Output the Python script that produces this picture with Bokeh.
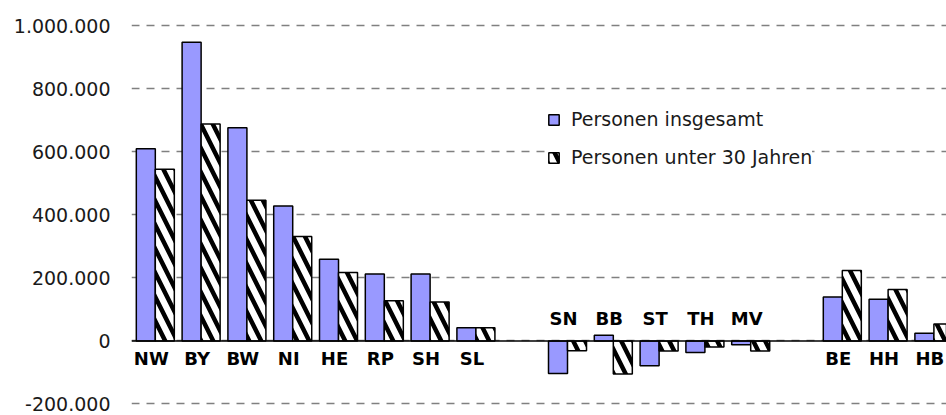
from bokeh.plotting import figure
from bokeh.models import ColumnDataSource, FixedTicker, Span, Legend, LegendItem
from bokeh.core.properties import value
from bokeh.embed import file_html
from bokeh.resources import INLINE

# ---- data -------------------------------------------------------------
west = ["NW", "BY", "BW", "NI", "HE", "RP", "SH", "SL"]
west_total = [609000, 947000, 676000, 428000, 259000, 212000, 212000, 42000]
west_young = [544000, 688000, 446000, 331000, 217000, 127000, 123000, 42000]

east = ["SN", "BB", "ST", "TH", "MV"]
east_total = [-103000, 18000, -79000, -37000, -12000]
east_young = [-31000, -105000, -32000, -19000, -32000]

city = ["BE", "HH", "HB"]
city_total = [139000, 132000, 24000]
city_young = [223000, 163000, 54000]

series_names = ["Personen insgesamt", "Personen unter 30 Jahren"]

y_ticks = [-200000, 0, 200000, 400000, 600000, 800000, 1000000]
y_tick_labels = ["-200.000", "0", "200.000", "400.000", "600.000", "800.000", "1.000.000"]

# ---- build slots (one empty slot between the groups) ------------------
groups = [(west, west_total, west_young),
          (east, east_total, east_young),
          (city, city_total, city_young)]
names, xs, tot, yng = [], [], [], []
pos = 0
for gi, (g, t, y) in enumerate(groups):
    if gi > 0:
        pos += 1
    for n, a, b in zip(g, t, y):
        names.append(n)
        xs.append(pos)
        tot.append(a)
        yng.append(b)
        pos += 1

BW = 0.415
src = ColumnDataSource(dict(
    name=names,
    xb=[x - BW / 2 for x in xs],
    xh=[x + BW / 2 for x in xs],
    total=tot,
    young=yng,
))

below = dict(x=[], y=[], t=[])
above = dict(x=[], y=[], t=[])
for n, x, a, b in zip(names, xs, tot, yng):
    d = above if min(a, b) < 0 else below
    d["x"].append(x)
    d["y"].append(0)
    d["t"].append(n)

FONT = "DejaVu Sans"

p = figure(width=946, height=415,
           x_range=(-0.52, 17.275), y_range=(-226950, 1028535),
           output_backend="svg", toolbar_location=None,
           x_axis_location=None,
           min_border_left=131, min_border_right=0,
           min_border_top=16, min_border_bottom=3)
p.outline_line_color = None
p.background_fill_color = "white"
p.border_fill_color = "white"

ticker = FixedTicker(ticks=y_ticks)
p.yaxis.ticker = ticker
p.yaxis.major_label_overrides = {t: l for t, l in zip(y_ticks, y_tick_labels)}
p.yaxis.axis_line_color = None
p.yaxis.major_tick_line_color = None
p.yaxis.minor_tick_line_color = None
p.yaxis.major_tick_out = 0
p.yaxis.major_tick_in = 0
p.yaxis.major_label_standoff = 21
p.yaxis.major_label_text_font = FONT
p.yaxis.major_label_text_font_size = "19px"
p.yaxis.major_label_text_color = "#1a1a1a"

p.xgrid.visible = False
p.ygrid.ticker = ticker
p.ygrid.grid_line_color = "#808080"
p.ygrid.grid_line_dash = "8 7"
p.ygrid.grid_line_width = 1.5

r1 = p.vbar(x="xb", top="total", width=BW, source=src,
            fill_color="#9999FF", line_color="black", line_width=1.5)
r2 = p.vbar(x="xh", top="young", width=BW, source=src,
            fill_color="white", hatch_pattern="\\", hatch_color="black",
            hatch_weight=4.5, hatch_scale=24,
            line_color="black", line_width=1.5)

p.add_layout(Span(location=0, dimension="width", line_color="black", line_width=1.5))

p.text(x=below["x"], y=below["y"], text=below["t"], x_offset=-4, y_offset=18,
       text_align="center", text_baseline="middle",
       text_font=value(FONT), text_font_style="bold", text_font_size="18px",
       text_color="black")
p.text(x=above["x"], y=above["y"], text=above["t"], x_offset=-4, y_offset=-22,
       text_align="center", text_baseline="middle",
       text_font=value(FONT), text_font_style="bold", text_font_size="18px",
       text_color="black")

legend = Legend(items=[LegendItem(label=series_names[0], renderers=[r1]),
                       LegendItem(label=series_names[1], renderers=[r2])],
                location=(416, 244))
legend.label_text_font = FONT
legend.label_text_font_size = "19px"
legend.label_text_color = "#1a1a1a"
legend.glyph_width = 13
legend.glyph_height = 13
legend.label_standoff = 11
legend.spacing = 16
legend.padding = 8
legend.margin = 0
legend.border_line_color = None
legend.background_fill_color = "white"
legend.background_fill_alpha = 1.0
p.add_layout(legend)

open("out.html", "w").write(file_html(p, INLINE))
